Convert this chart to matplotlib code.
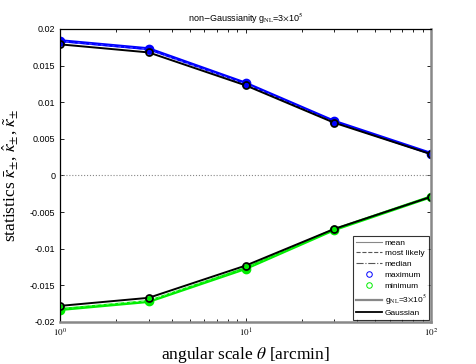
import numpy as np
import matplotlib
matplotlib.use("Agg")
import matplotlib.pyplot as plt

plt.rcParams['font.family'] = ['Liberation Sans', 'DejaVu Sans']
plt.rcParams['mathtext.fontset'] = 'stix'

# angular scales in arcmin
theta = [1, 3, 10, 30, 100]

# non-Gaussian (g_NL = 3e5): maximum statistics
ng_max_mean = [0.0184, 0.0173, 0.0126, 0.0074, 0.0030]
ng_max_ml = [0.0183, 0.0172, 0.0125, 0.0073, 0.0029]
ng_max_med = [0.0183, 0.0172, 0.0126, 0.0074, 0.0029]
# minimum statistics
ng_min_mean = [-0.0183, -0.0172, -0.0127, -0.0074, -0.0029]
ng_min_ml = [-0.0182, -0.0171, -0.0126, -0.0073, -0.0029]
ng_min_med = [-0.0182, -0.0172, -0.0126, -0.0074, -0.0029]

# Gaussian reference
g_max = [0.0179, 0.0168, 0.0123, 0.0072, 0.0029]
g_min = [-0.0178, -0.0167, -0.0123, -0.0073, -0.0029]

yticks = [-0.02, -0.015, -0.01, -0.005, 0, 0.005, 0.01, 0.015, 0.02]
yticklabels = ['-0.02', '-0.015', '-0.01', '-0.005', '0', '0.005', '0.01', '0.015', '0.02']
xticks = [1, 10, 100]
xticklabels = ['$10^0$', '$10^1$', '$10^2$']

fig = plt.figure(figsize=(4.77, 3.64), dpi=100)
ax = fig.add_axes([0.126, 0.1154, 0.778, 0.805])

# zero line
ax.plot([1, 100], [0, 0], ':', color='#888888', lw=0.8)

# colored (non-Gaussian) curves
for col, mean, ml, med in [('#0000ff', ng_max_mean, ng_max_ml, ng_max_med),
                           ('#00ee00', ng_min_mean, ng_min_ml, ng_min_med)]:
    ax.plot(theta, mean, '-', color=col, lw=2.2)
    ax.plot(theta, ml, '--', color='white', lw=0.7, dashes=(3, 3))
    ax.plot(theta, med, '-', color=col, lw=0.8)
    ax.plot(theta, mean, 'o', color=col, ms=6, mec=col)

# Gaussian curves
for g in [g_max, g_min]:
    ax.plot(theta, g, '-', color='black', lw=1.4)
    ax.plot(theta, g, 'o', mfc='none', mec='black', ms=5, mew=1.3)

# re-draw colored fills inside gaussian markers
ax.plot(theta, g_max, 'o', color='#0000ff', ms=3.5, mec='none')
ax.plot(theta, g_min, 'o', color='#00ee00', ms=3.5, mec='none')

ax.set_xscale('log')
ax.set_xlim(1, 100)
ax.set_ylim(-0.02, 0.02)
ax.set_yticks(yticks)
ax.set_yticklabels(yticklabels)
ax.set_xticks(xticks)
ax.set_xticklabels(xticklabels)
ax.tick_params(axis='both', which='both', direction='in', top=True, right=True,
               labelsize=6.5, length=3, width=0.6)
ax.tick_params(axis='x', which='minor', length=2)

for s in ['left', 'top']:
    ax.spines[s].set_color('black')
    ax.spines[s].set_linewidth(0.9)
for s in ['right', 'bottom']:
    ax.spines[s].set_color('#888888')
    ax.spines[s].set_linewidth(1.8)

ax.set_title(r'non$-$Gaussianity g$_{\rm NL}$=3$\times$10$^5$', fontsize=6.5, pad=5)
ax.set_xlabel(r'angular scale $\theta$ [arcmin]', fontsize=12.5, family='Liberation Serif', labelpad=4)
ax.set_ylabel(r'statistics $\bar{\kappa}_{\pm}$, $\hat{\kappa}_{\pm}$, $\tilde{\kappa}_{\pm}$',
              fontsize=12.5, family='Liberation Serif', labelpad=6)

# legend handles
h = []
h.append(plt.Line2D([], [], color='#888888', lw=0.8, ls='-'))
h.append(plt.Line2D([], [], color='#555555', lw=0.8, ls='--'))
h.append(plt.Line2D([], [], color='#555555', lw=0.8, ls='-.'))
h.append(plt.Line2D([], [], color='#0000ff', marker='o', mfc='none', ls='none', ms=4, mew=0.7))
h.append(plt.Line2D([], [], color='#00ee00', marker='o', mfc='none', ls='none', ms=4, mew=0.7))
h.append(plt.Line2D([], [], color='#888888', lw=1.6, ls='-'))
h.append(plt.Line2D([], [], color='black', lw=1.3, ls='-'))
labels = ['mean', 'most likely', 'median', 'maximum', 'minimum',
          r'g$_{\rm NL}$=3$\times$10$^5$', 'Gaussian']
leg = ax.legend(h, labels, loc='lower right', fontsize=6, frameon=True, fancybox=False,
                edgecolor='black', borderpad=0.3, labelspacing=0.35, handlelength=3.2,
                handletextpad=0.3, borderaxespad=0.25)
leg.get_frame().set_linewidth(0.8)

fig.savefig('out.png', dpi=100)
